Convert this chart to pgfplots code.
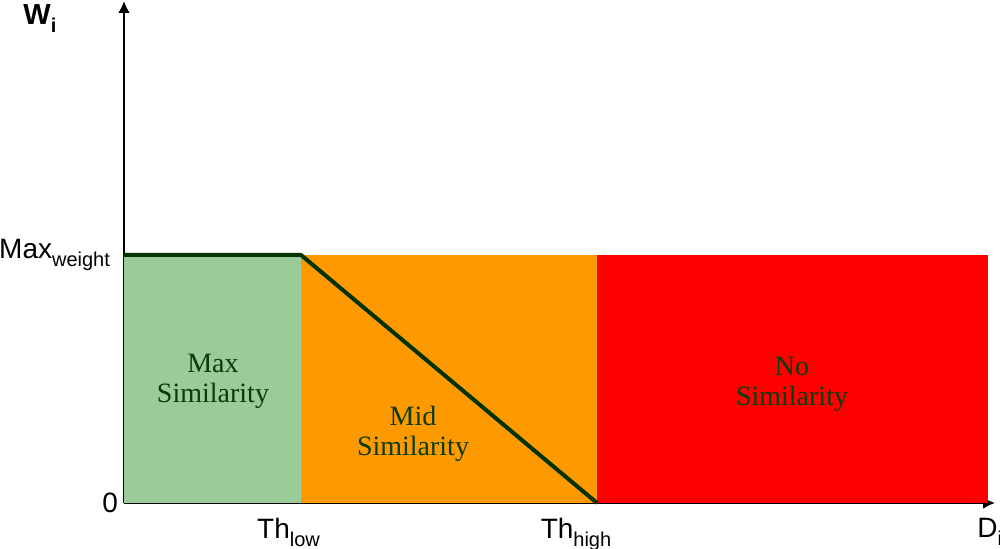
\documentclass[border=0pt]{standalone}
\usepackage{fontspec}
\setmainfont{Liberation Sans}
\newfontfamily\timesf{Liberation Serif}
\usepackage{pgfplots}
\pgfplotsset{compat=1.18}
\usetikzlibrary{arrows.meta}
\definecolor{gfill}{RGB}{153,204,153}
\definecolor{ofill}{RGB}{255,153,0}
\definecolor{rfill}{RGB}{255,0,0}
\definecolor{dline}{RGB}{0,51,0}
\definecolor{dtext}{RGB}{10,60,10}
\newcommand\sub[1]{\raisebox{-4pt}{\fontsize{10}{12}\selectfont #1}}
\begin{document}
\begin{tikzpicture}
\begin{axis}[
  scale only axis,
  x=0.5pt, y=0.5pt,
  xmin=0, xmax=871, ymin=0, ymax=502,
  enlargelimits=false,
  axis lines=left,
  axis line style={line width=1.3pt, -{Latex[length=6pt,width=6pt]}},
  xtick={164.5,452},
  xticklabels={Th\sub{low}, Th\sub{high}},
  ytick={0,248},
  yticklabels={0, Max\sub{weight}\hspace*{4pt}},
  major tick length=0pt,
  tick style={draw=none},
  xticklabel style={font=\fontsize{14}{16}\selectfont, anchor=base, yshift=-18pt},
  yticklabel style={font=\fontsize{14}{16}\selectfont, anchor=east, xshift=0.5pt},
  clip=false,
]
\addplot[fill=gfill, draw=none] coordinates {(0,248) (177,248)} \closedcycle;
\addplot[fill=ofill, draw=none] coordinates {(177,248) (473,248)} \closedcycle;
\addplot[fill=rfill, draw=none] coordinates {(473,248) (864,248)} \closedcycle;
\addplot[dline, line width=2pt, line join=round] coordinates {(0,248) (177,248) (473,0)};
\node[font=\timesf\fontsize{14}{15}\selectfont, text=dtext, align=center] at (axis cs:89,122) {Max\\Similarity};
\node[font=\timesf\fontsize{14}{15}\selectfont, text=dtext, align=center] at (axis cs:289,69) {Mid\\Similarity};
\node[font=\timesf\fontsize{14}{15}\selectfont, text=dtext, align=center] at (axis cs:668,119) {No\\Similarity};
\node[font=\bfseries\fontsize{14.5}{16}\selectfont, anchor=base west, inner sep=0pt] at (axis cs:-101,478) {W\sub{i}};
\node[font=\fontsize{14}{16}\selectfont, anchor=base west, inner sep=0pt] at (axis cs:853,-35) {D\sub{i}};
\end{axis}
\pgfresetboundingbox
\path[use as bounding box] (-62pt,-23pt) rectangle (438pt,251.5pt);
\end{tikzpicture}
\end{document}
